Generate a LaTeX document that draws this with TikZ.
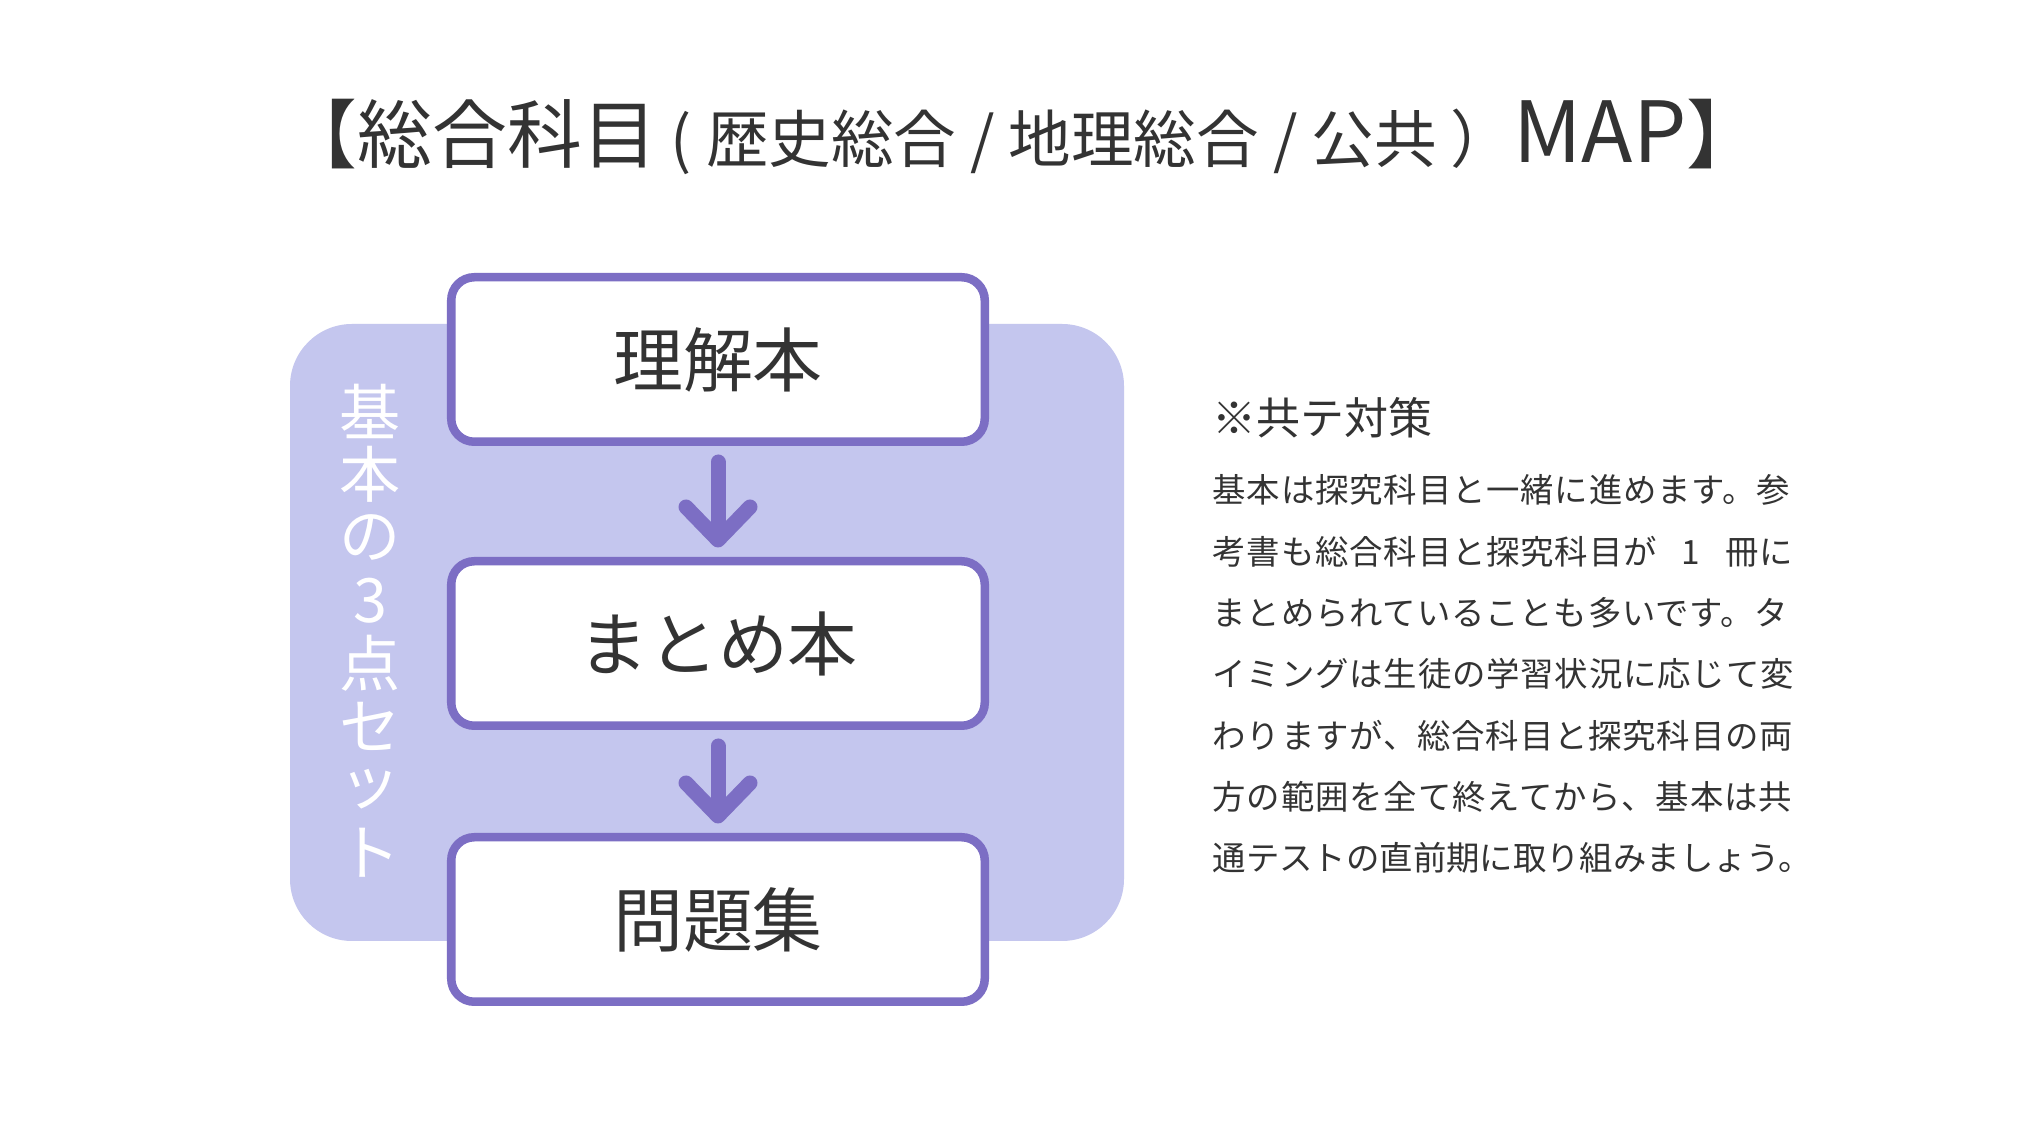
\documentclass[tikz,border=0pt]{standalone}
\usepackage{fontspec}
\setmainfont{Noto Sans CJK JP}
\newfontfamily\bodyfont{Noto Sans CJK JP}[LetterSpace=2.5]
\usetikzlibrary{arrows.meta}
\definecolor{mappurple}{RGB}{124,110,196}
\definecolor{maplavender}{RGB}{196,198,238}
\definecolor{maptext}{RGB}{51,51,51}

\tikzset{
    stepbox/.style={draw=mappurple, line width=2.42pt, fill=white, rounded corners=0.23cm,
        minimum width=5.335cm, minimum height=1.645cm, text=maptext,
        font=\fontsize{19.9}{24}\selectfont},
    flowarrow/.style={mappurple, line width=4.27pt, line cap=round,
        shorten <=0.16cm, shorten >=0.095cm,
        -{Straight Barb[length=0.33cm, width=0.64cm, round]}},
    vtext/.style={text=white, inner sep=0pt, font=\fontsize{17.4}{20}\selectfont},
    bodyline/.style={anchor=west, inner sep=0pt, text=maptext,
        font=\bodyfont\fontsize{9.5}{11}\selectfont}
}

\begin{document}
\begin{tikzpicture}
    \fill[white] (0,0) rectangle (20.4,-11.24);
    \useasboundingbox (0,0) rectangle (20.4,-11.24);

    % Title
    \node[text=maptext, font=\fontsize{21.3}{26}\selectfont] (title) at (10.22,-1.37)
        {【総合科目{\fontsize{17.8}{26}\selectfont\ ( 歴史総合 / 地理総合 / 公共 ）}{\fontsize{24}{26}\selectfont MAP}】};

    % Background panel
    \fill[maplavender, rounded corners=0.62cm] (2.90,-3.24) rectangle (11.24,-9.41);

    % Vertical label
    \foreach \c [count=\i] in {基,本,の,3,点,セ,ッ,ト} {
        \node[vtext] (v\i) at (3.70,{-4.11-0.631*(\i-1)}) {\c};
    }

    % Steps
    \node[stepbox] (understand) at (7.18,-3.595) {理解本};
    \node[stepbox] (summary) at (7.18,-6.435) {まとめ本};
    \node[stepbox] (drill) at (7.18,-9.195) {問題集};

    \draw[flowarrow] (understand) -- (summary);
    \draw[flowarrow] (summary) -- (drill);

    % Notes
    \node[anchor=west, inner sep=0pt, text=maptext, font=\fontsize{12.5}{15}\selectfont]
        (notehead) at (12.12,-4.18) {※共テ対策};

    \foreach \t [count=\i] in {基本は探究科目と一緒に進めます。参,
        {\makebox[5.80cm][s]{考書も総合科目と探究科目が 1 冊に}},
        まとめられていることも多いです。タ,
        イミングは生徒の学習状況に応じて変,
        わりますが、総合科目と探究科目の両,
        方の範囲を全て終えてから、基本は共} {
        \node[bodyline] (note\i) at (12.12,{-4.904-0.6125*(\i-1)}) {\t};
    }
    \node[bodyline, font=\fontsize{9.5}{11}\selectfont] (note7) at (12.12,-8.58)
        {通テストの直前期に取り組みましょう。};
\end{tikzpicture}
\end{document}
